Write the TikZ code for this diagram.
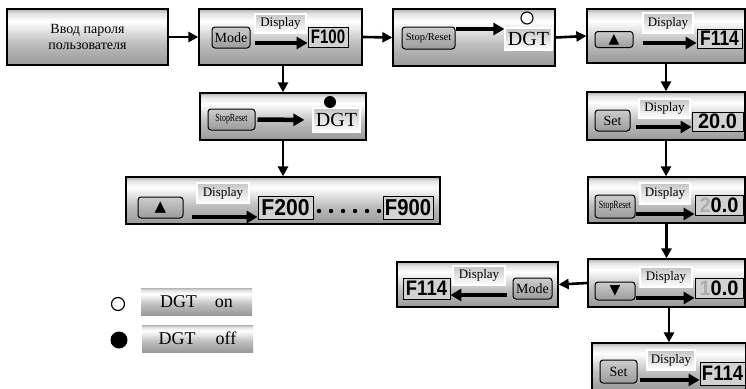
\documentclass[tikz,border=0pt]{standalone}
\usepackage{fontspec}
\setmainfont{Liberation Serif}
\setsansfont{Liberation Sans}
\newfontfamily\symfont{DejaVu Sans}
\usetikzlibrary{arrows.meta,positioning}
\newcommand\fsz[1]{\fontsize{#1}{#1}\selectfont}
\colorlet{pbot}{gray!80}
\colorlet{pmid}{gray!50}
\colorlet{plit}{gray!22}
\colorlet{ptop}{gray!60}
\pgfdeclareverticalshading{panelshade}{100bp}{color(0bp)=(pbot); color(25bp)=(pbot); color(45bp)=(pmid); color(64bp)=(white); color(71bp)=(plit); color(75bp)=(ptop); color(100bp)=(ptop)}
\tikzset{
  wh/.style 2 args={minimum width=#1, minimum height=#2},
  panel/.style={draw, line width=1.3pt, shade, shading=panelshade, inner sep=0pt},
  legend/.style={shade, shading=panelshade, inner sep=0pt, font=\fsz{18}},
  btn/.style={draw, line width=1pt, rounded corners=3pt, top color=gray!40, bottom color=gray!78, inner sep=0pt, font=\fsz{14}},
  lbl/.style={draw=white, line width=1.2pt, top color=gray!45, bottom color=white, inner sep=0pt, font=\fsz{13}},
  led/.style={draw, line width=0.9pt, fill=gray!35, inner sep=0pt},
  link/.style={line width=2.6pt, -{Triangle[length=10pt,width=10pt]}},
  push/.style={line width=4.5pt, -{Triangle[length=11pt,width=12pt]}},
}
\begin{document}
\begin{tikzpicture}[x=1pt,y=-1pt]
\fill[white] (0,0) rectangle (746,388);
\useasboundingbox (0,0) rectangle (746,388);
% top row
\node[panel, wh={161pt}{56pt}, align=center, font={\fontsize{14}{16}\selectfont}] (in) at (87.5,37) {Ввод пароля\\пользователя};
\node[panel, wh={163pt}{56pt}] (p1) at (280.5,37) {};
\node[btn, wh={38pt}{21pt}] (b1) at (231,37.5) {Mode};
\node[lbl, wh={51pt}{19pt}] (d1) at (280.5,23.5) {Display};
\node[led, wh={40pt}{20pt}, font=\sffamily\bfseries\fsz{19.5}] (f1) at (328,37) {\scalebox{0.77}[1]{F100}};
\coordinate (a1) at (255,43);
\draw[push] (a1) -- (a1 -| f1.west);
\node[panel, wh={162pt}{57pt}] (p2) at (474,37.5) {};
\node[btn, wh={53pt}{22pt}, font=\fsz{10.5}] (b2) at (428.5,38) {Stop/Reset};
\node[lbl, wh={47pt}{22pt}, font=\fsz{20}] (g1) at (528.5,39) {DGT};
\node[circle, draw, line width=1.1pt, fill=white, minimum size=12pt, inner sep=0pt] (o1) at (527,18) {};
\draw[push] ([yshift=9pt]b2.east) -- ([yshift=9pt]b2.east -| g1.west);
\node[panel, wh={158pt}{54pt}] (p3) at (666,36) {};
\node[btn, wh={38pt}{16pt}, font={\symfont\fsz{14}}] (b3) at (614,39.5) {▲};
\node[lbl, wh={50pt}{20pt}] (d3) at (668,23) {Display};
\node[led, wh={45pt}{19pt}, font=\sffamily\bfseries\fsz{21}] (f3) at (719.5,38.5) {\scalebox{0.83}[1]{F114}};
\coordinate (a3) at (643,43);
\draw[push] (a3) -- (a3 -| f3.west);
% left column
\node[panel, wh={166pt}{47pt}] (p4) at (283,116.5) {};
\node[btn, wh={47pt}{21pt}, font=\fsz{11}] (b4) at (231.5,119.5) {\scalebox{0.72}[1]{StopReset}};
\node[lbl, wh={47pt}{24pt}, font=\fsz{20}] (g2) at (336.5,120) {DGT};
\node[circle, fill, minimum size=12pt, inner sep=0pt] (o2) at (330,102) {};
\draw[push, shorten <=2pt, shorten >=8pt] (b4.east) -- (g2.west);
\node[panel, wh={314pt}{47pt}] (p5) at (283,200.5) {};
\node[btn, wh={45pt}{21pt}, font={\symfont\fsz{15}}] (b5) at (160.5,207.5) {▲};
\node[lbl, wh={52pt}{20pt}] (d5) at (223,193) {Display};
\node[led, wh={55pt}{23pt}, font=\sffamily\bfseries\fsz{23}] (f5) at (285.5,207.5) {\scalebox{0.92}[1]{F200}};
\node[led, wh={50pt}{23pt}, font=\sffamily\bfseries\fsz{23}] (f6) at (408,207.5) {\scalebox{0.88}[1]{F900}};
\fill (319,211) circle (2.2) (331,211) circle (2.2) (343,211) circle (2.2)
      (355,211) circle (2.2) (367,211) circle (2.2) (379,211) circle (2.2);
\coordinate (a5) at (192,217);
\draw[push] (a5) -- (a5 -| f5.west);
% right column
\node[panel, wh={158pt}{48pt}] (p6) at (666,116) {};
\node[btn, wh={35pt}{21pt}] (b6) at (612.5,120.5) {Set};
\node[lbl, wh={51pt}{19pt}] (d6) at (664.5,108.5) {Display};
\node[led, wh={51pt}{19pt}, font=\sffamily\bfseries\fsz{21}] (f7) at (717.5,121.5) {\scalebox{0.95}[1]{20.0}};
\coordinate (a6) at (636,127);
\draw[push] (a6) -- (a6 -| f7.west);
\node[panel, wh={157pt}{46pt}] (p7) at (666.5,200) {};
\node[btn, wh={40pt}{23pt}, font=\fsz{11}] (b7) at (615,206.5) {\scalebox{0.72}[1]{StopReset}};
\node[lbl, wh={50pt}{21pt}] (d7) at (665,193.5) {Display};
\node[led, wh={48pt}{20pt}, font=\sffamily\bfseries\fsz{21}] (f8) at (719,205) {\scalebox{0.95}[1]{{\color{gray!65}2}0.0}};
\coordinate (a7) at (636,214);
\draw[push] (a7) -- (a7 -| f8.west);
\node[panel, wh={157pt}{48pt}] (p8) at (666.5,283) {};
\node[btn, wh={40pt}{18pt}, font={\symfont\fsz{14}}] (b8) at (615,291) {▼};
\node[lbl, wh={52pt}{20pt}] (d8) at (666,277) {Display};
\node[led, wh={48pt}{20pt}, font=\sffamily\bfseries\fsz{21}] (f9) at (719,288) {\scalebox{0.95}[1]{{\color{gray!65}1}0.0}};
\coordinate (a8) at (636,298);
\draw[push] (a8) -- (a8 -| f9.west);
\node[panel, wh={161pt}{45pt}] (p9) at (477.5,284.5) {};
\node[led, wh={47pt}{21pt}, font=\sffamily\bfseries\fsz{21}] (f10) at (426.5,288.5) {\scalebox{0.88}[1]{F114}};
\node[lbl, wh={52pt}{19pt}] (d9) at (479,275.5) {Display};
\node[btn, wh={39pt}{21pt}] (b9) at (532.5,288.5) {Mode};
\coordinate (a9) at (507,295);
\draw[push] (a9) -- (a9 -| f10.east);
\node[panel, wh={154pt}{48pt}] (p10) at (669,367) {};
\node[btn, wh={37pt}{23pt}] (b10) at (618.5,371.5) {Set};
\node[lbl, wh={48pt}{20pt}] (d10) at (671,360) {Display};
\node[led, wh={45pt}{23pt}, font=\sffamily\bfseries\fsz{21}] (f11) at (722.5,373.5) {\scalebox{0.88}[1]{F114}};
\coordinate (a10) at (640,380);
\draw[push] (a10) -- (a10 -| f11.west);
% connectors
\draw[link] (in.east) -- (p1.west);
\draw[link] (p1.east) -- (p2.west);
\draw[link] (p2.east) -- (p3.west);
\draw[link] (p4.north |- p1.south) -- (p4.north);
\draw[link] (p4.south) -- (p5.north);
\draw[link] (p3.south) -- (p6.north);
\draw[link] (p6.south) -- (p6.south |- p7.north);
\draw[link] (p7.south) -- (p7.south |- p8.north);
\draw[link] (p8.west) -- (p9.east);
\draw[link] (p10.north |- p8.south) -- (p10.north);
% legend
\node[circle, draw, line width=1.2pt, minimum size=13pt, inner sep=0pt] (on) at (118,304) {};
\node[legend, wh={111pt}{27pt}] (ont) at (196.5,301.5) {DGT\hspace{18pt}on};
\node[circle, fill, minimum size=17pt, inner sep=0pt] (off) at (119,340) {};
\node[legend, wh={111pt}{27pt}] (offt) at (197.5,338.5) {DGT\hspace{20pt}off};
\end{tikzpicture}
\end{document}
